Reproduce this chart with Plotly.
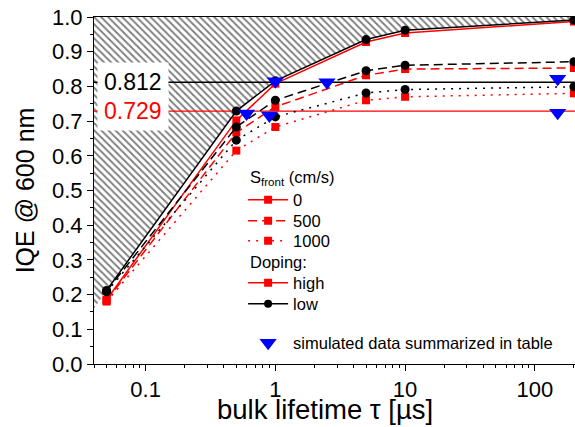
import numpy as np
import plotly.graph_objects as go

# ---------------- data ----------------
tau = [0.05, 0.5, 1, 5, 10, 200]

high_S0 = [0.185, 0.702, 0.808, 0.928, 0.954, 0.987]
high_S500 = [0.183, 0.667, 0.741, 0.832, 0.850, 0.853]
high_S1000 = [0.180, 0.615, 0.683, 0.760, 0.770, 0.780]

low_S0 = [0.212, 0.729, 0.816, 0.935, 0.962, 0.991]
low_S500 = [0.210, 0.683, 0.760, 0.845, 0.861, 0.871]
low_S1000 = [0.208, 0.645, 0.712, 0.781, 0.791, 0.799]

sim_tau = [0.6, 0.9, 1.0, 2.5, 150, 150]
sim_iqe = [0.722, 0.716, 0.815, 0.812, 0.822, 0.724]

level_low = 0.812
level_high = 0.729

x_min, x_max = 0.04, 204
hatch_left = 0.16
y_top = 1.0

x_ticks = [0.1, 1, 10, 100]
x_ticktext = ["0.1", "1", "10", "100"]

RED = "#FF0000"
BLACK = "#000000"
BLUE = "#0000FF"
FONT = "Liberation Sans, Arial, sans-serif"

fig = go.Figure()

# hatched region above the low-doping S=0 curve
hx = [x_min] + tau + [tau[-1], x_min]
hy = [hatch_left] + low_S0 + [y_top, y_top]
fig.add_trace(go.Scatter(
    x=hx, y=hy, mode="lines", fill="toself", line=dict(width=0),
    fillcolor="rgba(255,255,255,0)",
    fillpattern=dict(shape="\\", fgcolor="black", bgcolor="white", size=5, solidity=0.38),
    showlegend=False, hoverinfo="skip"))

# horizontal reference levels
fig.add_trace(go.Scatter(x=[x_min, x_max], y=[level_low, level_low], mode="lines",
                         line=dict(color=BLACK, width=1.3), showlegend=False))
fig.add_trace(go.Scatter(x=[x_min, x_max], y=[level_high, level_high], mode="lines",
                         line=dict(color=RED, width=1.3), showlegend=False))

dashes = {"solid": "solid", "dash": "9px,5px", "dot": "2px,6px"}

series = [
    (high_S0, RED, "square", "solid"),
    (high_S500, RED, "square", "dash"),
    (high_S1000, RED, "square", "dot"),
    (low_S0, BLACK, "circle", "solid"),
    (low_S500, BLACK, "circle", "dash"),
    (low_S1000, BLACK, "circle", "dot"),
]
for ys, col, sym, dsh in series:
    fig.add_trace(go.Scatter(
        x=tau, y=ys, mode="lines+markers",
        line=dict(color=col, width=1.5, dash=dashes[dsh]),
        marker=dict(symbol=sym, size=8 if sym == "square" else 9, color=col),
        showlegend=False))

# simulated data
fig.add_trace(go.Scatter(
    x=sim_tau, y=sim_iqe, mode="markers",
    marker=dict(symbol="triangle-down", size=15, color=BLUE),
    showlegend=False))

# legend proxies, one legend per row for exact spacing
leg_items = [
    ("0", RED, "square", "solid", "legend"),
    ("500", RED, "square", "dash", "legend2"),
    ("1000", RED, "square", "dot", "legend3"),
    ("high", RED, "square", "solid", "legend4"),
    ("low", BLACK, "circle", "solid", "legend5"),
]
for name, col, sym, dsh, lg in leg_items:
    fig.add_trace(go.Scatter(
        x=[None], y=[None], mode="lines+markers", name=name,
        line=dict(color=col, width=1.5, dash=dashes[dsh]),
        marker=dict(symbol=sym, size=8, color=col),
        showlegend=True, legend=lg))

fig.add_trace(go.Scatter(
    x=[None], y=[None], mode="markers", name="simulated data summarized in table",
    marker=dict(symbol="triangle-down", size=15, color=BLUE),
    showlegend=True, legend="legend6"))

leg_x = 0.31
leg_rows = {"legend": 0.4726, "legend2": 0.412, "legend3": 0.3545,
            "legend4": 0.2334, "legend5": 0.1729, "legend6": 0.0605}
legend_layout = {}
for lg, yy in leg_rows.items():
    legend_layout[lg] = dict(x=leg_x, y=yy, xanchor="left", yanchor="middle",
                             bgcolor="rgba(0,0,0,0)", borderwidth=0, itemwidth=40,
                             font=dict(size=16.5, family=FONT, color="black"))

# legend headings
fig.add_annotation(x=0.32, y=0.536, xref="paper", yref="paper", xanchor="left", yanchor="middle",
                   text="S<sub>front</sub> (cm/s)", showarrow=False,
                   font=dict(size=16.5, family=FONT, color="black"))
fig.add_annotation(x=0.32, y=0.294, xref="paper", yref="paper", xanchor="left", yanchor="middle",
                   text="Doping:", showarrow=False,
                   font=dict(size=16.5, family=FONT, color="black"))

# level labels
lab_x = np.log10(0.08)
fig.add_annotation(x=lab_x, y=level_low, text=str(level_low), showarrow=False,
                   font=dict(size=23, color=BLACK, family=FONT), bgcolor="white", borderpad=6,
                   xref="x", yref="y")
fig.add_annotation(x=lab_x, y=level_high, text=str(level_high), showarrow=False,
                   font=dict(size=23, color=RED, family=FONT), bgcolor="white", borderpad=6,
                   xref="x", yref="y")

# x axis title
fig.add_annotation(x=0.48, y=-0.132, xref="paper", yref="paper", xanchor="center", yanchor="middle",
                   text="bulk lifetime \u03c4 [\u00b5s]", showarrow=False,
                   font=dict(size=27.5, family=FONT, color="black"))

fig.update_layout(
    width=575, height=427,
    margin=dict(l=94, r=0, t=17, b=63),
    paper_bgcolor="white", plot_bgcolor="white",
    font=dict(family=FONT, color="black"),
    **legend_layout,
    xaxis=dict(type="log", range=[np.log10(x_min), np.log10(x_max)],
               tickvals=x_ticks, ticktext=x_ticktext,
               ticks="outside", ticklen=6, tickwidth=1, tickcolor="black",
               minor=dict(ticks="outside", ticklen=3, tickcolor="black", dtick="D1", showgrid=False),
               showline=True, linecolor="black", linewidth=1, mirror=True,
               showgrid=False, zeroline=False,
               tickfont=dict(size=22, family=FONT)),
    yaxis=dict(range=[0, 1.0], dtick=0.1, tickformat=".1f",
               ticks="outside", ticklen=6, tickwidth=1, tickcolor="black",
               minor=dict(ticks="outside", ticklen=3, tickcolor="black", dtick=0.05, showgrid=False),
               showline=True, linecolor="black", linewidth=1, mirror=True,
               showgrid=False, zeroline=False,
               tickfont=dict(size=22, family=FONT),
               title=dict(text="IQE @ 600 nm", font=dict(size=25, family=FONT), standoff=10)),
)

fig.write_html("out.html")
